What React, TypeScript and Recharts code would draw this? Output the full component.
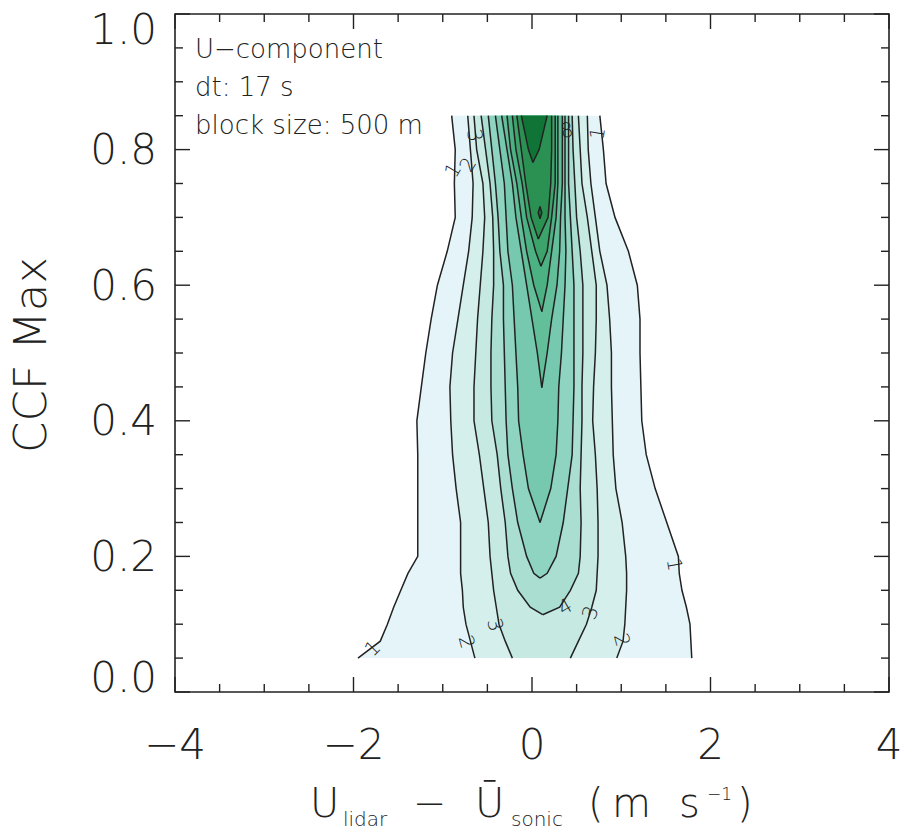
import React from 'react';
import { ComposedChart, Area, XAxis, YAxis, ReferenceArea, ReferenceDot } from 'recharts';

// CCF Max rows where contour edges were read
const CCF_ROWS = [0.05, 0.075, 0.1, 0.125, 0.15, 0.175, 0.2, 0.25, 0.3, 0.35, 0.4, 0.45, 0.5, 0.55, 0.6, 0.65, 0.7, 0.75, 0.8, 0.85];

// contour level edges (U_lidar - U_sonic, m/s), left and right side
const L1_CCF = CCF_ROWS;
const L1_LEFT = [-1.95, -1.7, -1.62, -1.55, -1.47, -1.39, -1.28, -1.28, -1.28, -1.28, -1.29, -1.24, -1.19, -1.13, -1.06, -0.95, -0.86, -0.87, -0.86, -0.9];
const L1_RIGHT = [1.79, 1.78, 1.77, 1.73, 1.68, 1.65, 1.64, 1.51, 1.38, 1.28, 1.23, 1.22, 1.21, 1.21, 1.18, 1.08, 0.93, 0.83, 0.8, 0.76];

const L2_CCF = CCF_ROWS;
const L2_LEFT = [-0.64, -0.69, -0.74, -0.77, -0.78, -0.8, -0.8, -0.8, -0.85, -0.89, -0.91, -0.92, -0.89, -0.83, -0.77, -0.71, -0.67, -0.66, -0.69, -0.72];
const L2_RIGHT = [0.95, 1.02, 1.04, 1.05, 1.06, 1.06, 1.05, 1.01, 0.94, 0.91, 0.9, 0.89, 0.89, 0.87, 0.84, 0.76, 0.71, 0.66, 0.63, 0.62];

const L3_CCF = CCF_ROWS;
const L3_LEFT = [-0.22, -0.3, -0.37, -0.4, -0.43, -0.45, -0.47, -0.49, -0.54, -0.59, -0.65, -0.65, -0.63, -0.61, -0.58, -0.55, -0.53, -0.55, -0.62, -0.65];
const L3_RIGHT = [0.43, 0.52, 0.61, 0.67, 0.72, 0.73, 0.74, 0.74, 0.73, 0.71, 0.68, 0.69, 0.71, 0.72, 0.72, 0.67, 0.62, 0.56, 0.54, 0.52];

const L4_CCF = [0.114, 0.125, 0.15, 0.175, 0.2, 0.25, 0.3, 0.35, 0.4, 0.45, 0.5, 0.55, 0.6, 0.65, 0.7, 0.75, 0.8, 0.85];
const L4_LEFT = [0.12, -0.02, -0.16, -0.24, -0.27, -0.3, -0.35, -0.39, -0.45, -0.46, -0.46, -0.45, -0.43, -0.43, -0.44, -0.47, -0.52, -0.57];
const L4_RIGHT = [0.12, 0.31, 0.43, 0.52, 0.54, 0.55, 0.54, 0.55, 0.56, 0.56, 0.57, 0.57, 0.57, 0.54, 0.5, 0.48, 0.46, 0.45];

const L5_CCF = [0.168, 0.175, 0.2, 0.25, 0.3, 0.35, 0.4, 0.45, 0.5, 0.55, 0.6, 0.65, 0.7, 0.75, 0.8, 0.85];
const L5_LEFT = [0.09, 0.02, -0.06, -0.16, -0.22, -0.27, -0.29, -0.3, -0.31, -0.32, -0.32, -0.36, -0.38, -0.41, -0.45, -0.49];
const L5_RIGHT = [0.09, 0.17, 0.27, 0.35, 0.4, 0.45, 0.46, 0.47, 0.47, 0.47, 0.47, 0.45, 0.43, 0.41, 0.41, 0.41];

const L6_CCF = [0.25, 0.3, 0.35, 0.4, 0.45, 0.5, 0.55, 0.6, 0.65, 0.7, 0.75, 0.8, 0.85];
const L6_LEFT = [0.09, -0.04, -0.1, -0.15, -0.16, -0.18, -0.2, -0.22, -0.27, -0.29, -0.31, -0.36, -0.41];
const L6_RIGHT = [0.09, 0.21, 0.27, 0.29, 0.3, 0.33, 0.35, 0.37, 0.38, 0.37, 0.37, 0.37, 0.37];

const L7_CCF = [0.449, 0.5, 0.55, 0.6, 0.65, 0.7, 0.75, 0.8, 0.85];
const L7_LEFT = [0.11, 0.06, 0.0, -0.06, -0.12, -0.18, -0.22, -0.28, -0.34];
const L7_RIGHT = [0.11, 0.17, 0.22, 0.28, 0.31, 0.32, 0.34, 0.34, 0.34];

const L8_CCF = [0.561, 0.6, 0.65, 0.7, 0.75, 0.8, 0.85];
const L8_LEFT = [0.11, 0.02, -0.06, -0.12, -0.17, -0.24, -0.28];
const L8_RIGHT = [0.11, 0.17, 0.22, 0.27, 0.29, 0.29, 0.29];

const L9_CCF = [0.628, 0.65, 0.7, 0.75, 0.8, 0.85];
const L9_LEFT = [0.1, 0.04, -0.06, -0.11, -0.18, -0.22];
const L9_RIGHT = [0.1, 0.17, 0.22, 0.26, 0.26, 0.26];

const L10_CCF = [0.668, 0.7, 0.75, 0.8, 0.85];
const L10_LEFT = [0.07, -0.01, -0.07, -0.12, -0.17];
const L10_RIGHT = [0.07, 0.18, 0.21, 0.22, 0.22];

const L11_CCF = [0.781, 0.8, 0.85];
const L11_LEFT = [0.01, -0.04, -0.12];
const L11_RIGHT = [0.01, 0.08, 0.17];

// small closed island of level 11
const L11B_CCF = [0.698, 0.707, 0.716];
const L11B_LEFT = [0.09, 0.07, 0.09];
const L11B_RIGHT = [0.09, 0.11, 0.09];

const LEVEL_COLORS = ['#e4f4f9', '#d5efec', '#c6e9e2', '#a9ded1', '#8fd3c1', '#76c9ae', '#62bf9a', '#4db283', '#3ca36b', '#2b9153', '#0f7436'];

// contour labels
const LABEL_TEXT = ['1', '2', '3', '4', '3', '2', '1', '1', '2', '3', '8', '1'];
const LABEL_X = [-1.79, -0.73, -0.41, 0.37, 0.65, 1.01, 1.6, -0.89, -0.72, -0.64, 0.39, 0.73];
const LABEL_Y = [0.065, 0.074, 0.099, 0.126, 0.117, 0.077, 0.188, 0.77, 0.778, 0.821, 0.829, 0.824];
const LABEL_ANGLE = [-45, 75, 75, -30, -70, 75, 80, -60, -60, 80, -10, -80];

const X_TICKS = [-4, -3.5, -3, -2.5, -2, -1.5, -1, -0.5, 0, 0.5, 1, 1.5, 2, 2.5, 3, 3.5, 4];
const X_MAJOR = [-4, -2, 0, 2, 4];
const Y_TICKS = [0, 0.05, 0.1, 0.15, 0.2, 0.25, 0.3, 0.35, 0.4, 0.45, 0.5, 0.55, 0.6, 0.65, 0.7, 0.75, 0.8, 0.85, 0.9, 0.95, 1];
const Y_MAJOR = [0, 0.2, 0.4, 0.6, 0.8, 1];

const W = 902;
const H = 831;
const PLOT = { left: 175, right: 889, top: 14, bottom: 692 };
const FONT = '"DejaVu Sans", sans-serif';
const INK = '#222';

const levels = [
  [L1_CCF, L1_LEFT, L1_RIGHT, 0],
  [L2_CCF, L2_LEFT, L2_RIGHT, 1],
  [L3_CCF, L3_LEFT, L3_RIGHT, 2],
  [L4_CCF, L4_LEFT, L4_RIGHT, 3],
  [L5_CCF, L5_LEFT, L5_RIGHT, 4],
  [L6_CCF, L6_LEFT, L6_RIGHT, 5],
  [L7_CCF, L7_LEFT, L7_RIGHT, 6],
  [L8_CCF, L8_LEFT, L8_RIGHT, 7],
  [L9_CCF, L9_LEFT, L9_RIGHT, 8],
  [L10_CCF, L10_LEFT, L10_RIGHT, 9],
  [L11_CCF, L11_LEFT, L11_RIGHT, 10],
  [L11B_CCF, L11B_LEFT, L11B_RIGHT, 10],
].map(([ccf, left, right, c]: any) => ({
  color: LEVEL_COLORS[c],
  data: (ccf as number[]).map((y, i) => ({ y, range: [left[i], right[i]] })),
}));

const near = (a: number, list: number[]) => list.some((v) => Math.abs(v - a) < 1e-6);

const XTick = (props: any) => {
  const { x, payload } = props;
  const v = payload.value;
  const major = near(v, X_MAJOR);
  const len = major ? 15 : 8;
  return (
    <g>
      <line x1={x} x2={x} y1={PLOT.bottom} y2={PLOT.bottom - len} stroke={INK} strokeWidth={1.4} />
      <line x1={x} x2={x} y1={PLOT.top} y2={PLOT.top + len} stroke={INK} strokeWidth={1.4} />
      {major && (
        <text x={x} y={744} textAnchor="middle" dominantBaseline="central" fontFamily={FONT} fontWeight={200} fontSize={42} fill={INK}>
          {v < 0 ? `\u2212${Math.abs(v)}` : `${v}`}
        </text>
      )}
    </g>
  );
};

const YTick = (props: any) => {
  const { y, payload } = props;
  const v = payload.value;
  const major = near(v, Y_MAJOR);
  const len = major ? 15 : 8;
  const dy = v === 1 ? 15 : v === 0 ? -15 : 0;
  return (
    <g>
      <line x1={PLOT.left} x2={PLOT.left + len} y1={y} y2={y} stroke={INK} strokeWidth={1.4} />
      <line x1={PLOT.right} x2={PLOT.right - len} y1={y} y2={y} stroke={INK} strokeWidth={1.4} />
      {major && (
        <text x={PLOT.left - 18} y={y + dy} textAnchor="end" dominantBaseline="central" fontFamily={FONT} fontWeight={200} fontSize={42} fill={INK}>
          {v.toFixed(1)}
        </text>
      )}
    </g>
  );
};

const XTitle = () => (
  <g fontFamily={FONT} fontWeight={200} fill={INK}>
    <text x={310} y={817} fontSize={40}>U</text>
    <text x={343} y={826} fontSize={20}>lidar</text>
    <text x={413} y={817} fontSize={40}>{'\u2212'}</text>
    <text x={475} y={817} fontSize={40}>{'\u016A'}</text>
    <text x={511} y={826} fontSize={20}>sonic</text>
    <text x={588} y={817} fontSize={40}>(</text>
    <text x={612} y={817} fontSize={40}>m</text>
    <text x={679} y={817} fontSize={40}>s</text>
    <text x={707} y={800} fontSize={17}>{'\u22121'}</text>
    <text x={737} y={817} fontSize={40}>)</text>
  </g>
);

const YTitle = () => (
  <text x={30} y={355} transform="rotate(-90 30 355)" textAnchor="middle" dominantBaseline="central" fontFamily={FONT} fontWeight={200} fontSize={45} fill={INK}>
    CCF Max
  </text>
);

const ContourLabel = (idx: number) => (props: any) => {
  const { cx, cy } = props;
  return (
    <text x={cx} y={cy} transform={`rotate(${LABEL_ANGLE[idx]} ${cx} ${cy})`} textAnchor="middle" dominantBaseline="central" fontFamily={FONT} fontWeight={200} fontSize={20} fill={INK}>
      {LABEL_TEXT[idx]}
    </text>
  );
};

const INFO = ['U\u2212component', 'dt: 17 s', 'block size: 500 m'];

export default function App() {
  return (
    <div style={{ position: 'absolute', left: 0, top: 0, width: W, height: H, background: '#fff' }}>
      <ComposedChart width={W} height={H} layout="vertical" margin={{ top: PLOT.top, right: W - PLOT.right, bottom: 79, left: 75 }}>
        <XAxis type="number" dataKey="x" domain={[-4, 4]} ticks={X_TICKS} interval={0} allowDataOverflow axisLine={false} tickLine={false} tick={<XTick />} height={60} label={{ content: () => <XTitle /> }} />
        <YAxis type="number" dataKey="y" reversed domain={[0, 1]} ticks={Y_TICKS} interval={0} allowDataOverflow axisLine={false} tickLine={false} tick={<YTick />} width={100} label={{ content: () => <YTitle /> }} />
        {levels.map((lv, i) => (
          <Area
            key={i}
            data={lv.data}
            dataKey="range"
            type="linear"
            stroke={INK}
            strokeWidth={1.5}
            fill={lv.color}
            fillOpacity={1}
            dot={false}
            activeDot={false}
            isAnimationActive={false}
          />
        ))}
        {LABEL_TEXT.map((t, i) => (
          <ReferenceDot key={`lab${i}`} x={LABEL_X[i]} y={LABEL_Y[i]} r={0} ifOverflow="visible" shape={ContourLabel(i)} />
        ))}
        <ReferenceArea x1={-4} x2={4} y1={0} y2={1} fill="none" stroke={INK} strokeWidth={1.6} ifOverflow="visible" />
      </ComposedChart>
      <div style={{ position: 'absolute', left: 195, top: 30, fontFamily: FONT, fontWeight: 200, fontSize: 26, color: INK, lineHeight: '38px', pointerEvents: 'none' }}>
        {INFO.map((t) => (
          <div key={t}>{t}</div>
        ))}
      </div>
    </div>
  );
}
